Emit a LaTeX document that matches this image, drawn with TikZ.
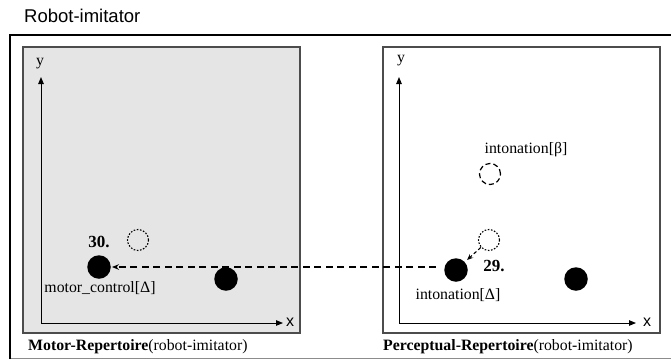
\documentclass[tikz,border=0pt]{standalone}
\usepackage{fontspec}
\setmainfont{Liberation Serif}
\setsansfont{Liberation Sans}
\usetikzlibrary{arrows.meta}
\begin{document}
\begin{tikzpicture}[x=1pt,y=-1pt,
 box/.style={draw=black!70, line width=1.3pt},
 axis/.style={line width=1pt, -{Triangle[length=7pt,width=5.5pt]}},
 dot/.style={circle, fill=black, minimum size=23.5pt, inner sep=0pt},
 ghostdot/.style={circle, draw, dash pattern=on 1.6pt off 1.6pt, line width=1.1pt, minimum size=21pt, inner sep=0pt},
 ghostdash/.style={circle, draw, dash pattern=on 5pt off 3pt, line width=1.2pt, minimum size=21pt, inner sep=0pt},
 lbl/.style={font=\fontsize{15.8}{17}\selectfont, inner sep=0pt},
 axlbl/.style={font=\sffamily\fontsize{16}{17}\selectfont, inner sep=0pt},
 num/.style={font=\fontsize{17}{19}\selectfont\bfseries, inner sep=0pt},
 link/.style={line width=1.2pt, dash pattern=on 7pt off 4.5pt, -{Stealth[length=7pt,width=5.5pt]}},
]
\useasboundingbox (0,0) rectangle (671,362);
% title
\node[font=\sffamily\fontsize{18.5}{20}\selectfont, anchor=west, inner sep=0pt] (title) at (24,16) {Robot-imitator};
% outer frame
\draw[black!45, line width=1pt] (10,358.5) -- (675,358.5);
\draw[line width=1.8pt] (10,359) -- (10,35) -- (675,35);
% repertoire boxes
\draw[box, fill=gray!20] (23,47) rectangle (300,333);
\draw[box, fill=white] (383,47) rectangle (660,333);
% axes
\coordinate (o1) at (41,323);
\coordinate (y1) at (41,77);
\coordinate (x1) at (283,323);
\coordinate (o2) at (399,323);
\coordinate (y2) at (399,77);
\coordinate (x2) at (636,323);
\draw[axis] (o1) -- (y1);
\draw[axis] (o1) -- (x1);
\draw[axis] (o2) -- (y2);
\draw[axis] (o2) -- (x2);
\node[lbl] (ly1) at (40,64) {y};
\node[axlbl] (lx1) at (290,322) {x};
\node[lbl] (ly2) at (401,61) {y};
\node[axlbl] (lx2) at (647,322) {x};
% motor repertoire
\node[dot] (m1) at (99,267) {};
\node[dot] (m2) at (226,279) {};
\node[ghostdot] (m0) at (138,240) {};
\node[num] (n30) at (99,242) {30.};
\node[lbl] (lm1) at (100,288) {motor\_control[Δ]};
\node[lbl, anchor=west] (lmr) at (28,347) {\textbf{Motor-Repertoire}(robot-imitator)};
% perceptual repertoire
\node[dot] (p1) at (456,270) {};
\node[dot] (p2) at (576,279) {};
\node[ghostdot] (p0) at (489,240) {};
\node[ghostdash] (pb) at (490,174) {};
\node[num] (n29) at (494,266) {29.};
\node[lbl] (lp1) at (458,295) {intonation[Δ]};
\node[lbl] (lpb) at (526,150) {intonation[β]};
\node[lbl, anchor=west] (lpr) at (383,347) {\textbf{Perceptual-Repertoire}(robot-imitator)};
% connectors
\draw[link, shorten <=8pt, shorten >=1pt] (p1.west |- m1) -- (m1);
\draw[line width=1.1pt, dash pattern=on 3.5pt off 2.5pt, -{Stealth[length=6pt,width=5pt]}, shorten >=3pt] (p0) -- (p1);
\end{tikzpicture}
\end{document}
